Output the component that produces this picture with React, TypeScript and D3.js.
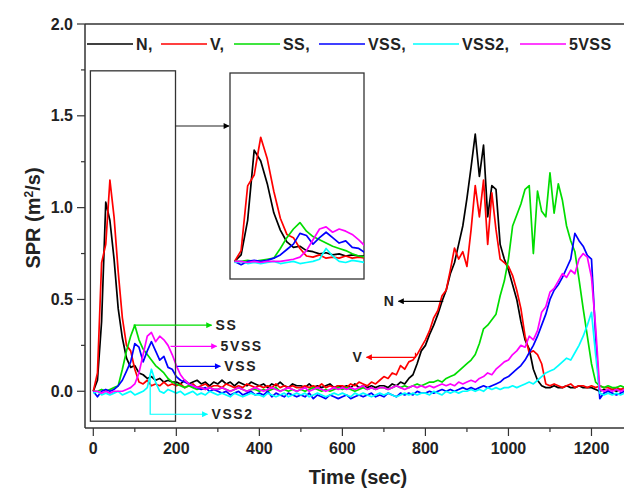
import * as d3 from "d3";

// sample times (sec), one reading every 10 s
const times = d3.range(0, 1301, 10);

// SPR (m²/s), 0..1300 s
const seriesN = [
  0.00, 0.06, 0.38, 1.03, 0.93, 0.72, 0.45, 0.29, 0.18, 0.13,
  0.14, 0.10, 0.09, 0.07, 0.08, 0.06, 0.07, 0.05, 0.06, 0.05,
  0.05, 0.04, 0.06, 0.04, 0.05, 0.06, 0.04, 0.05, 0.03, 0.05,
  0.04, 0.06, 0.04, 0.05, 0.03, 0.05, 0.04, 0.03, 0.05, 0.04,
  0.03, 0.04, 0.02, 0.04, 0.03, 0.05, 0.03, 0.02, 0.04, 0.03,
  0.03, 0.02, 0.04, 0.02, 0.03, 0.02, 0.03, 0.04, 0.02, 0.03,
  0.02, 0.03, 0.02, 0.04, 0.02, 0.03, 0.02, 0.03, 0.02, 0.03,
  0.03, 0.02, 0.04, 0.03, 0.05, 0.04, 0.07, 0.09, 0.15, 0.22,
  0.25, 0.31, 0.36, 0.42, 0.49, 0.55, 0.64, 0.70, 0.80, 0.90,
  1.05, 1.22, 1.40, 1.17, 1.34, 0.95, 1.12, 1.10, 0.80, 0.72,
  0.66, 0.58, 0.50, 0.38, 0.28, 0.23, 0.12, 0.06, 0.03, 0.02,
  0.02, 0.03, 0.02, 0.02, 0.03, 0.02, 0.02, 0.03, 0.02, 0.02,
  0.02, 0.01, 0.00, 0.01, 0.00, 0.01, 0.00, 0.01, 0.00, 0.01, 0.00,
];
const seriesV = [
  0.00, 0.10, 0.70, 0.80, 1.15, 0.95, 0.65, 0.40, 0.25, 0.22,
  0.12, 0.05, 0.04, 0.06, 0.03, 0.04, 0.03, 0.05, 0.03, 0.04,
  0.03, 0.04, 0.02, 0.03, 0.04, 0.02, 0.03, 0.04, 0.02, 0.03,
  0.03, 0.02, 0.04, 0.03, 0.02, 0.03, 0.02, 0.04, 0.03, 0.02,
  0.03, 0.02, 0.03, 0.02, 0.04, 0.02, 0.03, 0.02, 0.03, 0.02,
  0.02, 0.03, 0.02, 0.03, 0.02, 0.04, 0.02, 0.03, 0.02, 0.03,
  0.03, 0.02, 0.04, 0.03, 0.05, 0.04, 0.03, 0.05, 0.04, 0.06,
  0.08, 0.07, 0.10, 0.09, 0.14, 0.12, 0.16, 0.17, 0.20, 0.24,
  0.28, 0.33, 0.40, 0.44, 0.52, 0.55, 0.66, 0.78, 0.72, 0.76,
  0.68, 0.88, 1.12, 0.95, 1.15, 0.80, 1.08, 0.88, 0.72, 0.70,
  0.68, 0.63, 0.55, 0.45, 0.30, 0.21, 0.22, 0.20, 0.15, 0.04,
  0.03, 0.04, 0.03, 0.02, 0.03, 0.04, 0.02, 0.03, 0.03, 0.02,
  0.03, 0.02, 0.03, 0.02, 0.02, 0.01, 0.02, 0.01, 0.02, 0.01, 0.02,
];
const seriesSS = [
  0.00, 0.00, 0.01, 0.00, 0.01, 0.02, 0.03, 0.12, 0.22, 0.30,
  0.36, 0.28, 0.23, 0.20, 0.17, 0.14, 0.12, 0.10, 0.07, 0.05,
  0.04, 0.03, 0.02, 0.03, 0.02, 0.01, 0.02, 0.01, 0.02, 0.01,
  0.01, 0.02, 0.01, 0.00, 0.01, 0.02, 0.01, 0.00, 0.01, 0.01,
  0.00, 0.01, 0.00, 0.01, 0.02, 0.00, 0.01, 0.00, 0.01, 0.00,
  0.01, 0.00, 0.01, 0.02, 0.01, 0.00, 0.01, 0.00, 0.01, 0.02,
  0.01, 0.02, 0.01, 0.00, 0.01, 0.02, 0.01, 0.02, 0.01, 0.02,
  0.02, 0.01, 0.02, 0.03, 0.02, 0.03, 0.02, 0.03, 0.04, 0.03,
  0.04, 0.05, 0.05, 0.06, 0.05, 0.07, 0.08, 0.09, 0.11, 0.13,
  0.15, 0.17, 0.20, 0.26, 0.34, 0.36, 0.39, 0.42, 0.52, 0.60,
  0.72, 0.90, 0.96, 1.02, 1.10, 1.12, 0.75, 1.09, 0.98, 0.95,
  1.19, 0.97, 1.13, 1.04, 0.90, 0.82, 0.76, 0.61, 0.45, 0.30,
  0.15, 0.05, 0.03, 0.02, 0.03, 0.02, 0.02, 0.03, 0.02, 0.02, 0.02,
];
const seriesVSS = [
  0.00, -0.03, 0.00, 0.01, 0.00, 0.01, 0.03, 0.06, 0.11, 0.16,
  0.26, 0.24, 0.16, 0.22, 0.27, 0.22, 0.17, 0.19, 0.13, 0.12,
  0.08, 0.06, 0.05, 0.04, 0.03, 0.02, 0.01, 0.02, 0.00, 0.01,
  0.00, -0.01, 0.00, -0.02, -0.01, 0.00, -0.02, -0.01, 0.00, -0.02,
  -0.01, -0.02, 0.00, -0.03, -0.01, -0.02, -0.03, -0.01, -0.02, -0.03,
  -0.02, -0.03, -0.01, -0.04, -0.02, -0.03, -0.04, -0.02, -0.03, -0.04,
  -0.03, -0.02, -0.04, -0.03, -0.02, -0.03, -0.02, -0.01, -0.03, -0.02,
  -0.03, -0.01, -0.02, -0.03, -0.01, -0.02, -0.01, -0.02, 0.00, -0.01,
  -0.01, 0.00, -0.01, 0.00, 0.01, 0.00, 0.01, 0.00, 0.01, 0.02,
  0.01, 0.02, 0.01, 0.02, 0.03, 0.02, 0.03, 0.04, 0.05, 0.07,
  0.08, 0.10, 0.12, 0.14, 0.17, 0.21, 0.25, 0.30, 0.36, 0.42,
  0.50, 0.55, 0.58, 0.62, 0.67, 0.72, 0.86, 0.82, 0.79, 0.74,
  0.72, 0.30, -0.04, -0.01, 0.00, -0.01, -0.02, -0.01, 0.00, -0.01, -0.01,
];
const seriesVSS2 = [
  -0.01, 0.00, -0.02, -0.01, -0.02, -0.01, 0.00, -0.02, -0.01, 0.00,
  -0.02, -0.01, 0.00, 0.02, 0.12, 0.05, 0.00, -0.01, 0.01, 0.00,
  -0.01, 0.00, -0.02, -0.01, 0.00, -0.02, -0.01, -0.02, 0.00, -0.01,
  -0.02, -0.01, -0.02, -0.03, -0.01, -0.02, -0.03, -0.02, -0.01, -0.02,
  -0.02, -0.03, -0.01, -0.02, -0.03, -0.02, -0.01, -0.03, -0.02, -0.01,
  -0.02, -0.01, -0.03, -0.02, -0.01, -0.02, -0.03, -0.02, -0.01, -0.02,
  -0.01, -0.02, -0.03, -0.01, -0.02, -0.01, -0.02, -0.03, -0.02, -0.01,
  -0.02, -0.01, -0.02, -0.03, -0.02, -0.01, -0.02, -0.01, -0.02, -0.01,
  -0.01, -0.02, 0.00, -0.01, -0.02, 0.00, -0.01, 0.00, -0.01, 0.00,
  0.00, 0.01, 0.00, 0.01, 0.00, 0.02, 0.01, 0.02, 0.01, 0.02,
  0.02, 0.03, 0.02, 0.03, 0.04, 0.05, 0.04, 0.06, 0.08, 0.10,
  0.11, 0.12, 0.14, 0.16, 0.18, 0.17, 0.21, 0.25, 0.30, 0.36,
  0.43, 0.20, -0.01, -0.02, -0.01, -0.02, -0.01, -0.02, -0.01, -0.02, -0.01,
];
const series5VSS = [
  0.00, 0.00, -0.01, 0.00, -0.01, 0.00, 0.00, 0.00, 0.01, 0.02,
  0.04, 0.10, 0.20, 0.30, 0.32, 0.27, 0.30, 0.28, 0.25, 0.20,
  0.14, 0.09, 0.06, 0.04, 0.03, 0.02, 0.02, 0.01, 0.02, 0.01,
  0.01, 0.02, 0.01, 0.00, 0.01, 0.02, 0.01, 0.00, 0.01, 0.02,
  0.01, 0.00, 0.01, 0.02, 0.01, 0.00, 0.01, 0.02, 0.01, 0.00,
  0.01, 0.02, 0.00, 0.01, 0.02, 0.01, 0.00, 0.01, 0.02, 0.01,
  0.02, 0.01, 0.02, 0.01, 0.02, 0.03, 0.01, 0.02, 0.01, 0.02,
  0.02, 0.01, 0.02, 0.03, 0.02, 0.01, 0.02, 0.03, 0.02, 0.03,
  0.02, 0.03, 0.02, 0.03, 0.04, 0.03, 0.04, 0.03, 0.05, 0.04,
  0.05, 0.06, 0.05, 0.07, 0.08, 0.10, 0.09, 0.12, 0.14, 0.16,
  0.17, 0.20, 0.22, 0.25, 0.24, 0.30, 0.28, 0.33, 0.43, 0.46,
  0.54, 0.56, 0.60, 0.64, 0.62, 0.66, 0.64, 0.72, 0.75, 0.73,
  0.62, 0.35, 0.01, 0.00, 0.01, 0.00, 0.01, 0.00, 0.01, 0.00, 0.01,
];

const seriesNames = ["N", "V", "SS", "VSS", "VSS2", "5VSS"];
const seriesColors = ["#000000", "#ff0000", "#00dd00", "#0000ff", "#00ffff", "#ff00ff"];
const seriesValues = [seriesN, seriesV, seriesSS, seriesVSS, seriesVSS2, series5VSS];
const legendLabels = ["N,", "V,", "SS,", "VSS,", "VSS2,", "5VSS"];

const xMajorTicks = [0, 200, 400, 600, 800, 1000, 1200];
const xMinorTicks = [100, 300, 500, 700, 900, 1100, 1300];
const yMajorTicks = [0, 0.5, 1.0, 1.5, 2.0];
const yMinorTicks = [0.25, 0.75, 1.25, 1.75];

// zoomed region (data coords) shown in the inset
const zoomBox = { t0: -7, t1: 198, v0: -0.163, v1: 1.745 };

// arrow annotations: [label, colour idx, path points (t, v)]
const annotations = [
  { label: "SS", c: 2, pts: [[97, 0.36], [285, 0.36]] },
  { label: "5VSS", c: 5, pts: [[186, 0.245], [297, 0.245]] },
  { label: "VSS", c: 3, pts: [[202, 0.136], [306, 0.136]] },
  { label: "VSS2", c: 4, pts: [[137, 0.09], [137, -0.125], [275, -0.125]] },
  { label: "N", c: 0, pts: [[843, 0.49], [735, 0.49]] },
  { label: "V", c: 1, pts: [[776, 0.21], [776, 0.185], [658, 0.185]] },
];

const FONT = "'Liberation Sans', Arial, sans-serif";

export default function App() {
  const W = 624;
  const H = 491;

  const x = d3.scaleLinear().domain([-20, 1300]).range([85, 633]);
  const y = d3.scaleLinear().domain([-0.2, 2.0]).range([428, 24]);

  // inset scales
  const xi = d3.scaleLinear().domain([zoomBox.t0, zoomBox.t1]).range([230, 364]);
  const yi = d3.scaleLinear().domain([zoomBox.v0, zoomBox.v1]).range([279, 73]);

  const mainLine = d3
    .line<number>()
    .x((_, i) => x(times[i]))
    .y((d) => y(d));
  const insetLine = d3
    .line<number>()
    .x((_, i) => xi(times[i]))
    .y((d) => yi(d));

  const axisColor = "#333";

  return (
    <svg
      width={W}
      height={H}
      style={{ position: "absolute", left: 0, top: 0, background: "#fff" }}
      fontFamily={FONT}
    >
      <defs>
        <clipPath id="plotClip">
          <rect x={86} y={24} width={W - 86} height={404} />
        </clipPath>
        <clipPath id="insetClip">
          <rect x={230} y={73} width={134} height={206} />
        </clipPath>
        {seriesColors.map((c, i) => (
          <marker
            key={i}
            id={`arrow${i}`}
            viewBox="0 0 10 10"
            refX={9}
            refY={5}
            markerWidth={7}
            markerHeight={6}
            markerUnits="userSpaceOnUse"
            orient="auto"
          >
            <path d="M0,0 L10,5 L0,10 z" fill={c} />
          </marker>
        ))}
      </defs>

      {/* data lines */}
      <g clipPath="url(#plotClip)">
        {seriesValues.map((vals, i) => (
          <path
            key={seriesNames[i]}
            d={mainLine(vals) ?? ""}
            fill="none"
            stroke={seriesColors[i]}
            strokeWidth={1.7}
            strokeLinejoin="round"
          />
        ))}
      </g>

      {/* frame */}
      <line x1={85} x2={W} y1={24} y2={24} stroke={axisColor} strokeWidth={1.5} />
      <line x1={85} x2={W} y1={428} y2={428} stroke={axisColor} strokeWidth={1.5} />
      <line x1={85} x2={85} y1={24} y2={428} stroke={axisColor} strokeWidth={1.5} />

      {/* y ticks */}
      {yMajorTicks.map((t) => (
        <g key={`ym${t}`}>
          <line x1={77} x2={85} y1={y(t)} y2={y(t)} stroke={axisColor} strokeWidth={1.2} />
          <text
            x={73}
            y={y(t)}
            textAnchor="end"
            dominantBaseline="central"
            fontSize={16}
            fontWeight="bold"
            fill="#222"
          >
            {t.toFixed(1)}
          </text>
        </g>
      ))}
      {yMinorTicks.map((t) => (
        <line key={`yn${t}`} x1={81} x2={85} y1={y(t)} y2={y(t)} stroke={axisColor} strokeWidth={1.2} />
      ))}

      {/* x ticks */}
      {xMajorTicks.map((t) => (
        <g key={`xm${t}`}>
          <line x1={x(t)} x2={x(t)} y1={428} y2={436} stroke={axisColor} strokeWidth={1.2} />
          <text
            x={x(t)}
            y={448}
            textAnchor="middle"
            dominantBaseline="central"
            fontSize={16}
            fontWeight="bold"
            fill="#222"
          >
            {t}
          </text>
        </g>
      ))}
      {xMinorTicks.map((t) => (
        <line key={`xn${t}`} x1={x(t)} x2={x(t)} y1={428} y2={432} stroke={axisColor} strokeWidth={1.2} />
      ))}

      {/* axis titles */}
      <text x={358} y={484} textAnchor="middle" fontSize={20} fontWeight="bold" fill="#222">
        Time (sec)
      </text>
      <text
        transform="translate(40,218) rotate(-90)"
        textAnchor="middle"
        fontSize={20}
        fontWeight="bold"
        fill="#222"
      >
        SPR (m<tspan dy={-7} fontSize={12}>2</tspan>
        <tspan dy={7}>/s)</tspan>
      </text>

      {/* zoom box, pointer and inset */}
      <rect
        x={x(zoomBox.t0)}
        y={y(zoomBox.v1)}
        width={x(zoomBox.t1) - x(zoomBox.t0)}
        height={y(zoomBox.v0) - y(zoomBox.v1)}
        fill="none"
        stroke={axisColor}
        strokeWidth={1.3}
      />
      <line
        x1={x(zoomBox.t1)}
        x2={229}
        y1={126}
        y2={126}
        stroke="#222"
        strokeWidth={1.2}
        markerEnd="url(#arrow0)"
      />
      <rect x={230} y={73} width={134} height={206} fill="#fff" stroke={axisColor} strokeWidth={1.3} />
      <g clipPath="url(#insetClip)">
        {seriesValues.map((vals, i) => (
          <path
            key={`in${seriesNames[i]}`}
            d={insetLine(vals.slice(0, 23)) ?? ""}
            fill="none"
            stroke={seriesColors[i]}
            strokeWidth={1.7}
            strokeLinejoin="round"
          />
        ))}
      </g>

      {/* annotations */}
      {annotations.map((a) => {
        const pts = a.pts.map(([t, v]) => [x(t), y(v)] as [number, number]);
        const end = pts[pts.length - 1];
        const leftward = end[0] < pts[0][0];
        return (
          <g key={a.label}>
            <path
              d={d3.line()(pts) ?? ""}
              fill="none"
              stroke={seriesColors[a.c]}
              strokeWidth={1.2}
              markerEnd={`url(#arrow${a.c})`}
            />
            <text
              x={leftward ? end[0] - 3 : end[0] + 4}
              y={end[1]}
              textAnchor={leftward ? "end" : "start"}
              dominantBaseline="central"
              fontSize={14}
              fontWeight="bold"
              letterSpacing={1.6}
              fill="#222"
            >
              {a.label}
            </text>
          </g>
        );
      })}

      {/* legend */}
      {legendLabels.map((lab, i) => {
        const lx = [87, 161, 234, 319, 413, 520][i];
        return (
          <g key={lab}>
            <line x1={lx} x2={lx + 46} y1={44} y2={44} stroke={seriesColors[i]} strokeWidth={1.6} />
            <text
              x={lx + 49}
              y={44}
              dominantBaseline="central"
              fontSize={16}
              fontWeight="bold"
              letterSpacing={0.4}
              fill="#222"
            >
              {lab}
            </text>
          </g>
        );
      })}
    </svg>
  );
}
